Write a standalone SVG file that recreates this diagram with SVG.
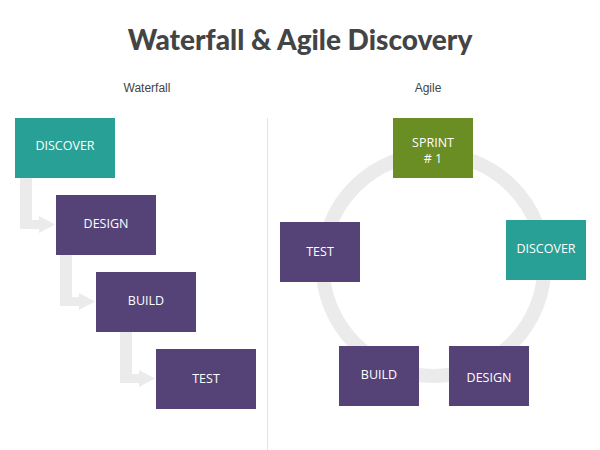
<svg xmlns="http://www.w3.org/2000/svg" width="600" height="450" viewBox="0 0 600 450">
<style>
.t{font-family:"Open Sans","DejaVu Sans",sans-serif;font-size:12.5px;fill:#ffffff;text-anchor:middle}
.teal{fill:#29A096}
.pur{fill:#554377}
.grn{fill:#6A8D24}
.arr{fill:#EBEBEB}
.lbl{font-family:"Liberation Sans",Arial,sans-serif;font-size:12px;fill:#444444;text-anchor:middle}
</style>
<defs>
<path id="bent" d="M0,0 H12 V43 H19 V39 L35,47.5 L19,56 V52 H0 Z"/>
</defs>
<rect width="600" height="450" fill="#ffffff"/>
<text x="300" y="50" font-family="Lato,'DejaVu Sans',sans-serif" font-weight="900" font-size="28" fill="#444444" text-anchor="middle">Waterfall &amp; Agile Discovery</text>
<text class="lbl" x="147" y="92">Waterfall</text>
<text class="lbl" x="428" y="92">Agile</text>
<line x1="267.5" y1="118" x2="267.5" y2="450" stroke="#E3E3E3" stroke-width="1"/>
<g id="connectors">
<use href="#bent" class="arr" x="20" y="177"/>
<use href="#bent" class="arr" x="60" y="254"/>
<use href="#bent" class="arr" x="120" y="331"/>
<circle cx="433.5" cy="265" r="111" fill="none" stroke="#EBEBEB" stroke-width="14"/>
</g>
<g id="wf-discover"><rect class="teal" x="15" y="118" width="100" height="60"/><text class="t" x="65" y="150">DISCOVER</text></g>
<g id="wf-design"><rect class="pur" x="56" y="195" width="100" height="60"/><text class="t" x="106" y="228">DESIGN</text></g>
<g id="wf-build"><rect class="pur" x="96" y="272" width="100" height="60"/><text class="t" x="146" y="305">BUILD</text></g>
<g id="wf-test"><rect class="pur" x="156" y="349" width="100" height="60"/><text class="t" x="206" y="383">TEST</text></g>
<g id="ag-sprint"><rect class="grn" x="393" y="118" width="80" height="60"/><text class="t" x="433" y="147">SPRINT</text><text class="t" x="433" y="163"># 1</text></g>
<g id="ag-discover"><rect class="teal" x="506" y="220" width="80" height="60"/><text class="t" x="546" y="253">DISCOVER</text></g>
<g id="ag-test"><rect class="pur" x="280" y="222" width="80" height="60"/><text class="t" x="320" y="256">TEST</text></g>
<g id="ag-build"><rect class="pur" x="339" y="346" width="80" height="60"/><text class="t" x="379" y="379">BUILD</text></g>
<g id="ag-design"><rect class="pur" x="449" y="346" width="80" height="60"/><text class="t" x="489" y="382">DESIGN</text></g>
</svg>
